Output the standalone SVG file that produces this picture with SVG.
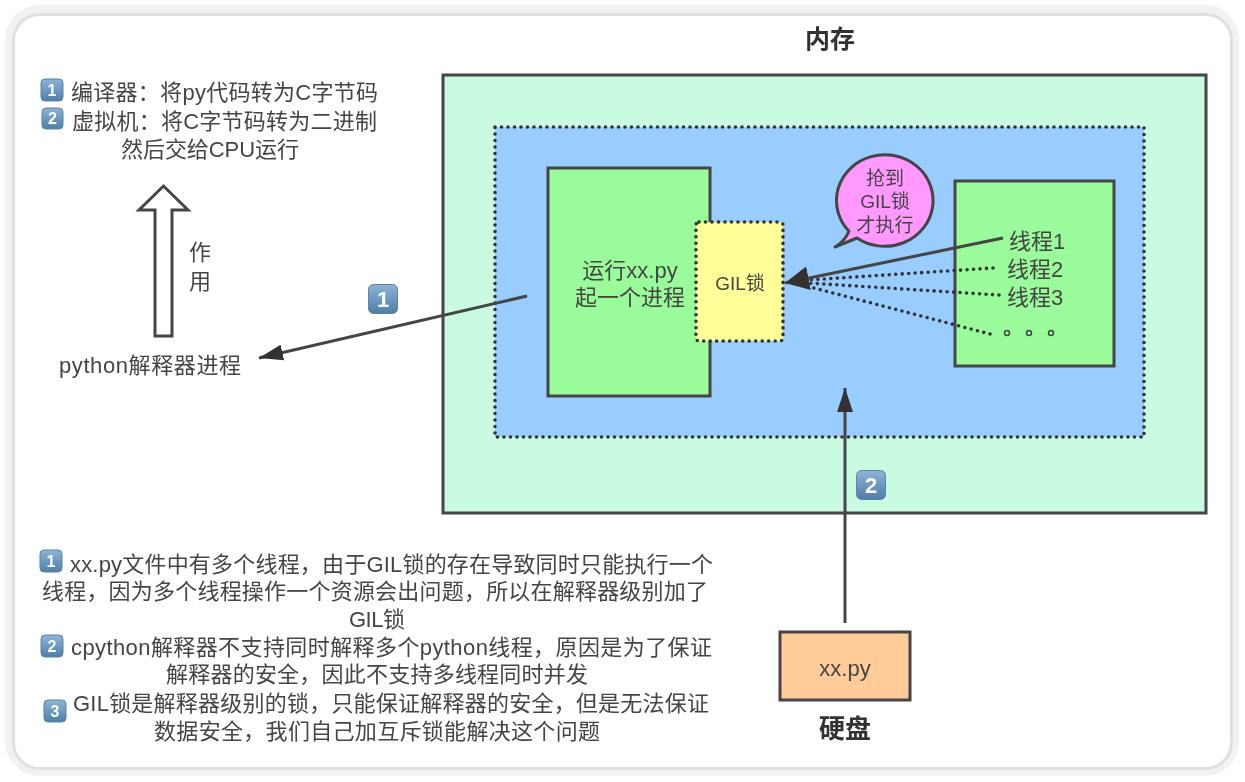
<svg xmlns="http://www.w3.org/2000/svg" width="1245" height="782" viewBox="0 0 1245 782">
<style>
text{font-family:"Liberation Sans","Noto Sans CJK SC",sans-serif;fill:#444;font-size:22px}
.m{text-anchor:middle}
.b{font-weight:bold;fill:#333;font-size:25px}
.t{font-size:19px}
.s{stroke:#444;stroke-width:3}
.d{stroke:#333;stroke-width:3.600;stroke-dasharray:0 6.500;stroke-linecap:round}
.badge{fill:url(#bg);stroke:#5b83a8;stroke-width:1}
.n{fill:#fff;font-weight:bold;text-anchor:middle}
.n16{font-size:16px}
.conn{stroke:#444;stroke-width:3;fill:none}
.o{fill:none;stroke:#444;stroke-width:1.500}
</style>
<defs>
<linearGradient id="bg" x1="0" y1="0" x2="0" y2="1"><stop offset="0" stop-color="#8db4d6"/><stop offset="1" stop-color="#4f7ea8"/></linearGradient>
<marker id="arr" markerUnits="userSpaceOnUse" markerWidth="26" markerHeight="20" refX="24" refY="10" orient="auto"><path d="M0 2L24 10L0 18Z" fill="#333"/></marker>
<marker id="arrbig" markerUnits="userSpaceOnUse" markerWidth="26" markerHeight="28" refX="24" refY="14" orient="auto"><path d="M0 2L24 14L0 26Z" fill="#333"/></marker>
<filter id="soft" filterUnits="userSpaceOnUse" x="0" y="0" width="1245" height="782"><feGaussianBlur stdDeviation="0.55"/></filter>
</defs>
<rect width="1245" height="782" fill="#fff"/>
<g id="frame"><rect x="9" y="9" width="1226" height="763" rx="30" fill="none" stroke="#f2f2f2" stroke-width="8"/><rect x="13.500" y="14.500" width="1218" height="754" rx="26" fill="#fff" stroke="#e0e0e0" stroke-width="3"/></g>
<g filter="url(#soft)">
<g id="memory"><rect x="443" y="75" width="763" height="438" fill="#c9fbe1" class="s"/><text x="830" y="48" class="m b">内存</text></g>
<g id="process-area"><rect x="495" y="127" width="649" height="310" fill="#99ccff" class="d"/></g>
<g id="run"><rect x="548" y="168" width="162" height="228" fill="#99fb99" class="s"/><text x="630" y="278" class="m">运行xx.py</text><text x="630" y="305" class="m">起一个进程</text></g>
<g id="gil"><rect x="696" y="222" width="87" height="119" rx="3" fill="#ffff99" class="d"/><text x="740" y="290" class="m t">GIL锁</text></g>
<g id="threads"><rect x="955" y="181" width="159" height="185" fill="#99fb99" class="s"/>
<text x="1009" y="249">线程1</text><text x="1007" y="277">线程2</text><text x="1007" y="305">线程3</text>
<circle cx="1007" cy="333" r="2.500" class="o"/><circle cx="1029" cy="333" r="2.500" class="o"/><circle cx="1051" cy="333" r="2.500" class="o"/></g>
<g id="bubble"><path d="M835 247Q845 241 849 231.300A48.300 45.800 0 1 1 857 238Q845 243 835 247Z" fill="#ff99ff" stroke="#444" stroke-width="3" stroke-linejoin="round"/>
<text x="885" y="185" class="m t">抢到</text><text x="885" y="208" class="m t">GIL锁</text><text x="885" y="232" class="m t">才执行</text></g>
<g id="connectors">
<path class="conn" d="M527 296L259 358" marker-end="url(#arr)"/>
<path class="conn" d="M845 623V388" marker-end="url(#arr)"/>
<path class="d" fill="none" d="M993 268L808 280"/><path class="d" fill="none" d="M999 295L808 283"/><path class="d" fill="none" d="M990 334L810 287"/>
<path class="conn" d="M1003 238L785 283" marker-end="url(#arrbig)"/>
<path d="M155 336V210H139L163.500 186L188 210H172V336Z" fill="#fff" stroke="#444" stroke-width="3"/>
</g>
<g id="legend-top">
<rect x="41" y="79" width="22" height="22" rx="4" class="badge"/><text x="52" y="96" class="n n16">1</text>
<rect x="42" y="108" width="21" height="21" rx="4" class="badge"/><text x="52.500" y="124" class="n n16">2</text>
<text x="71" y="100" textLength="307">编译器：将py代码转为C字节码</text>
<text x="72" y="129" textLength="305">虚拟机：将C字节码转为二进制</text>
<text x="121" y="157" textLength="178">然后交给CPU运行</text></g>
<g id="zuoyong"><text x="200" y="260" class="m">作</text><text x="200" y="289" class="m">用</text></g>
<g id="interpreter"><text x="59" y="373" textLength="182">python解释器进程</text></g>
<g id="badge-1"><rect x="368.500" y="284.500" width="29" height="29" rx="5" class="badge"/><text x="383" y="307" class="n">1</text></g>
<g id="badge-2"><rect x="856.500" y="470.500" width="29" height="29" rx="5" class="badge"/><text x="871" y="493" class="n">2</text></g>
<g id="xxpy"><rect x="780" y="632" width="130" height="68" fill="#ffcc99" class="s"/><text x="845" y="676" class="m">xx.py</text><text x="845" y="738" class="m b" style="font-size:26px">硬盘</text></g>
<g id="notes">
<rect x="40" y="550" width="22" height="22" rx="4" class="badge"/><text x="51" y="567" class="n n16">1</text>
<rect x="41" y="635" width="22" height="22" rx="4" class="badge"/><text x="52" y="652" class="n n16">2</text>
<rect x="44" y="700" width="22" height="22" rx="4" class="badge"/><text x="55" y="717" class="n n16">3</text>
<text x="70" y="572" textLength="643">xx.py文件中有多个线程，由于GIL锁的存在导致同时只能执行一个</text>
<text x="42" y="599" textLength="666">线程，因为多个线程操作一个资源会出问题，所以在解释器级别加了</text>
<text x="349" y="627" textLength="56">GIL锁</text>
<text x="71" y="655" textLength="641">cpython解释器不支持同时解释多个python线程，原因是为了保证</text>
<text x="166" y="682" textLength="422">解释器的安全，因此不支持多线程同时并发</text>
<text x="73" y="711" textLength="636">GIL锁是解释器级别的锁，只能保证解释器的安全，但是无法保证</text>
<text x="154" y="739" textLength="446">数据安全，我们自己加互斥锁能解决这个问题</text>
</g>
</g>
</svg>
